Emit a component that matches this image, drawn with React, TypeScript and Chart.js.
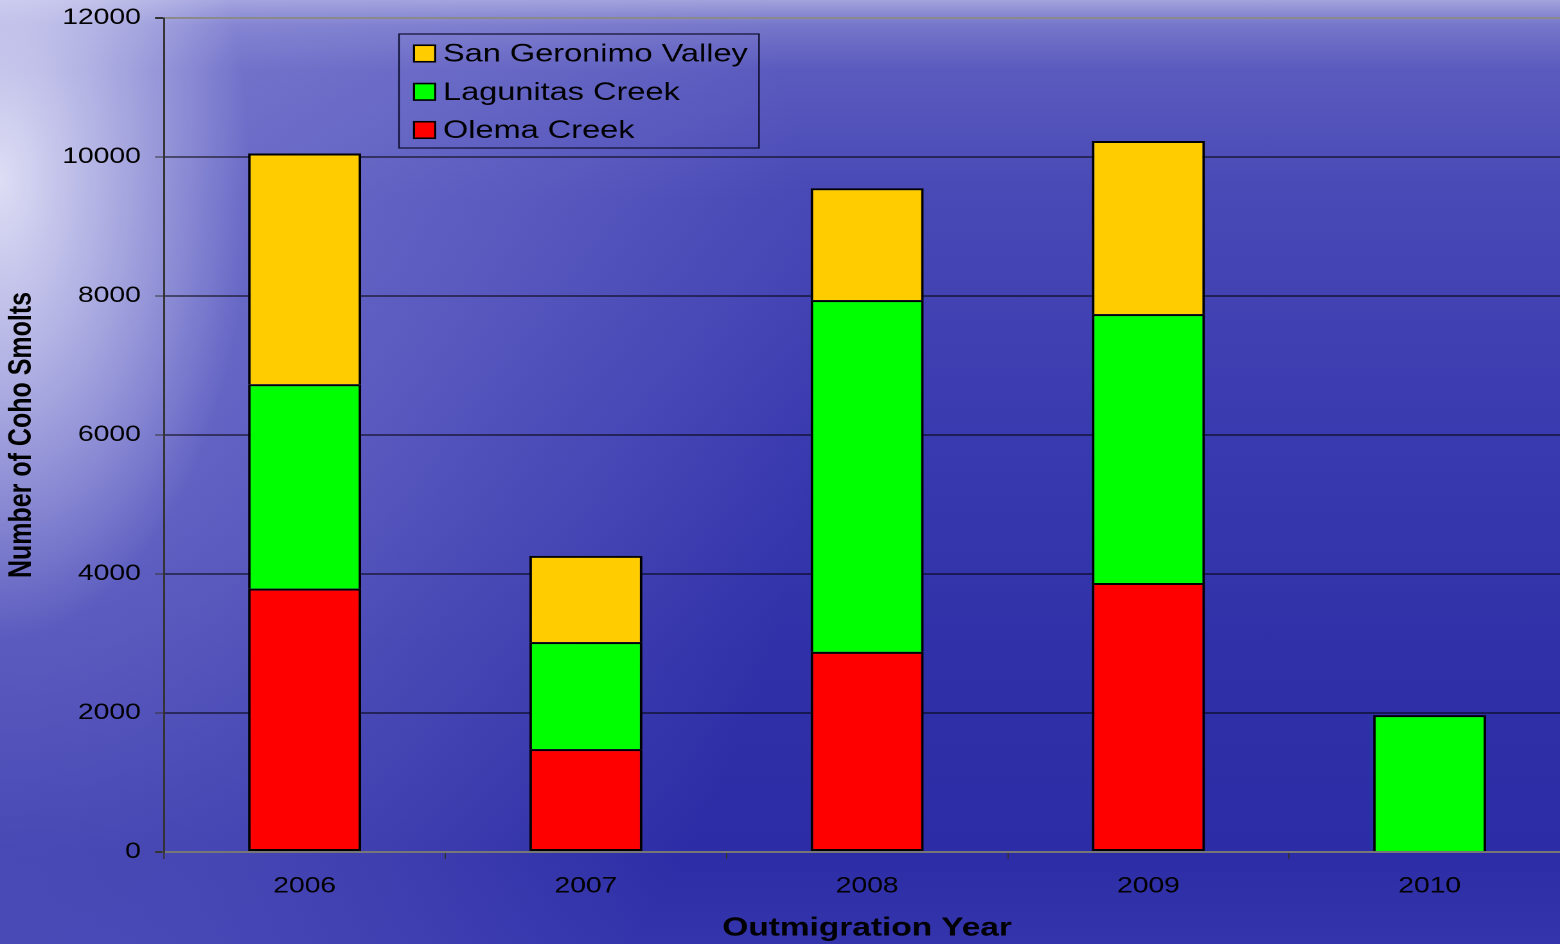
import React, { useEffect, useRef } from "react";
import { Chart, registerables } from "chart.js";

Chart.register(...registerables);

const categories = ["2006", "2007", "2008", "2009", "2010"];
const olemaCreek = [3790, 1480, 2880, 3870, null];
const lagunitasCreek = [2940, 1540, 5060, 3870, 1970];
const sanGeronimoValley = [3320, 1240, 1610, 2490, null];
const yTicks = [0, 2000, 4000, 6000, 8000, 10000, 12000];

const S = 1.285; // horizontal stretch of the original picture
const W = 1560;
const H = 944;
const IW = 1571 / S; // plot runs slightly past the right edge
const FONT = '"Liberation Sans", Arial, sans-serif';

const legendPlugin = {
  id: "boxLegend",
  afterDraw(chart: any) {
    const ctx = chart.ctx as CanvasRenderingContext2D;
    const x0 = 399 / S;
    const y0 = 34;
    const w = (759 - 399) / S;
    const h = 114;
    ctx.save();
    ctx.strokeStyle = "#101030";
    ctx.lineWidth = 1.2;
    ctx.strokeRect(x0, y0, w, h);
    const ds = [...chart.data.datasets].reverse();
    const rows = [53.5, 91.8, 130];
    ds.forEach((d: any, i: number) => {
      const cy = rows[i];
      const sx = 414 / S;
      const sz = 16.5;
      ctx.fillStyle = d.backgroundColor;
      ctx.fillRect(sx, cy - sz / 2, sz, sz);
      ctx.strokeStyle = "#000";
      ctx.lineWidth = 1.6;
      ctx.strokeRect(sx, cy - sz / 2, sz, sz);
      ctx.fillStyle = "#000";
      ctx.font = `25.3px ${FONT}`;
      ctx.textBaseline = "middle";
      ctx.textAlign = "left";
      ctx.fillText(d.label, 443 / S, cy + 1);
    });
    ctx.restore();
  },
};

export default function App() {
  const ref = useRef<HTMLCanvasElement | null>(null);
  useEffect(() => {
    document.body.style.margin = "0";
    const canvas = ref.current!;
    const chart = new Chart(canvas, {
      type: "bar",
      data: {
        labels: categories,
        datasets: [
          {
            label: "Olema Creek",
            data: olemaCreek,
            backgroundColor: "#ff0000",
            borderColor: "#000",
            borderWidth: 2,
            borderSkipped: false,
          },
          {
            label: "Lagunitas Creek",
            data: lagunitasCreek,
            backgroundColor: "#00ff00",
            borderColor: "#000",
            borderWidth: 2,
          },
          {
            label: "San Geronimo Valley",
            data: sanGeronimoValley,
            backgroundColor: "#ffcc00",
            borderColor: "#000",
            borderWidth: 2,
          },
        ] as any,
      },
      options: {
        responsive: false,
        animation: false,
        devicePixelRatio: 2,
        layout: { padding: { top: 18, left: 0, right: 0, bottom: 0 } },
        datasets: { bar: { categoryPercentage: 1, barPercentage: 0.402 } },
        plugins: { legend: { display: false }, tooltip: { enabled: false } },
        scales: {
          x: {
            stacked: true,
            offset: true,
            grid: {
              offset: true,
              drawOnChartArea: false,
              drawTicks: true,
              tickLength: 7,
              color: "#333",
              lineWidth: 1,
            },
            border: { display: true, color: "#777", width: 2 },
            ticks: {
              color: "#000",
              font: { family: FONT, size: 22 },
              padding: 14,
              maxRotation: 0,
            },
            title: {
              display: true,
              text: "Outmigration Year",
              color: "#000",
              font: { family: FONT, size: 26, weight: "bold" },
              padding: { top: 0, bottom: 0 },
            },
            afterFit(scale: any) {
              scale.height = 92;
            },
          },
          y: {
            stacked: true,
            min: 0,
            max: 12000,
            afterBuildTicks(scale: any) {
              scale.ticks = yTicks.map((v) => ({ value: v }));
            },
            grid: {
              color: (c: any) =>
                c.tick && c.tick.value === 12000
                  ? "#8a8a8a"
                  : c.tick && c.tick.value === 0
                  ? "#666"
                  : "#000",
              lineWidth: (c: any) =>
                c.tick && (c.tick.value === 12000 || c.tick.value === 0) ? 2 : 1,
              tickColor: "#333",
              tickLength: 7,
            },
            border: { display: true, color: "#333", width: 1.5 },
            ticks: {
              color: "#000",
              font: { family: FONT, size: 22 },
              padding: 11,
              callback: (v: any) => String(v),
            },
            title: {
              display: true,
              text: "Number of Coho Smolts",
              color: "#000",
              font: { family: FONT, size: 25, weight: "bold" },
              padding: { top: 2, bottom: 0 },
            },
            afterFit(scale: any) {
              scale.width = 164 / S;
              scale.paddingTop = 0;
            },
          },
        },
      },
      plugins: [legendPlugin],
    });
    return () => chart.destroy();
  }, []);

  return (
    <div
      style={{
        position: "fixed",
        left: 0,
        top: 0,
        width: W,
        height: H,
        overflow: "hidden",
        background:
          "radial-gradient(ellipse 250px 460px at 0px 180px, rgba(240,240,252,0.85), rgba(240,240,252,0) 100%)," +
          "radial-gradient(ellipse 820px 950px at 0px 340px, rgba(170,170,232,0.5), rgba(170,170,232,0) 100%)," +
          "linear-gradient(to bottom, #a2a2dc 0px, #7676ca 25px, #5a5abe 70px, #4848b6 200px, #3b3bb0 420px, #3030a8 650px, #2c2ca6 850px, #3434ac 944px)",
      }}
    >
      <div
        style={{
          width: IW,
          height: H,
          transform: `scaleX(${S})`,
          transformOrigin: "0 0",
        }}
      >
        <canvas ref={ref} width={IW} height={H} style={{ display: "block" }} />
      </div>
    </div>
  );
}
